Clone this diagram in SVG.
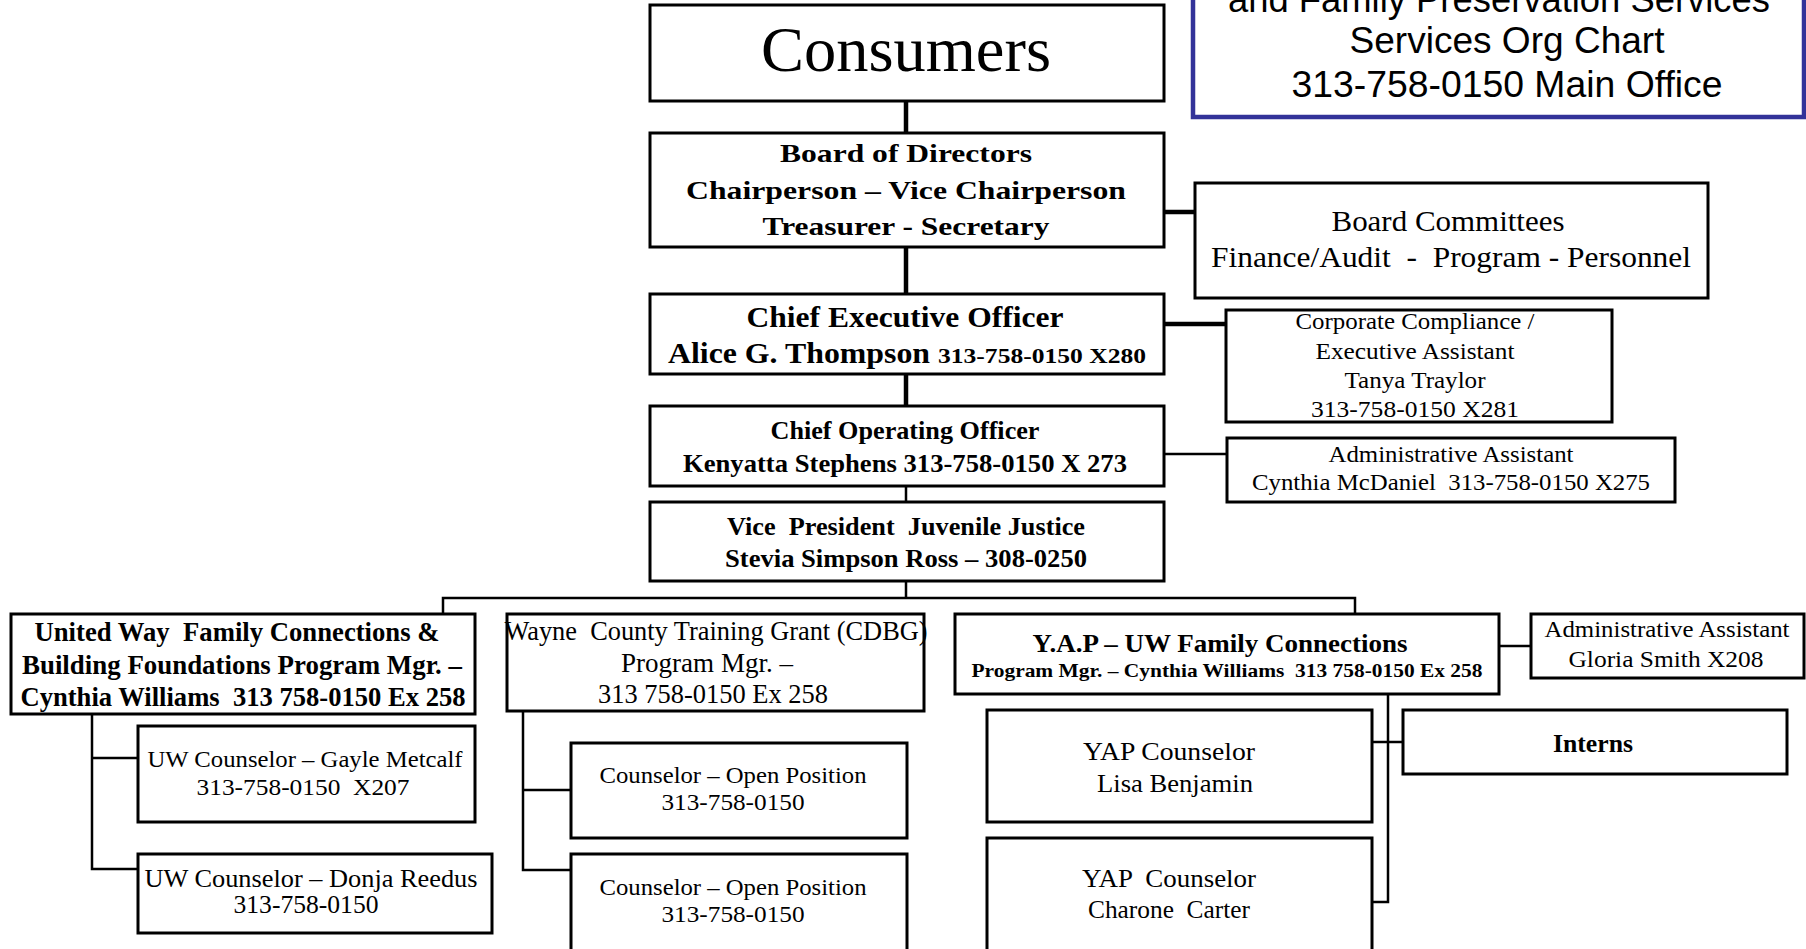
<svg xmlns="http://www.w3.org/2000/svg" width="1806" height="949" viewBox="0 0 1806 949">
<style>
.box{fill:#fff;stroke:#000;stroke-width:3}
.t{font-family:"Liberation Serif","Times New Roman",serif;fill:#000;text-anchor:middle;white-space:pre}
.s{text-anchor:start}
.b{font-weight:bold}
.thick{stroke:#000;stroke-width:4.5;fill:none}
.thin{stroke:#000;stroke-width:2.5;fill:none}
.title{font-family:"Liberation Sans",Arial,sans-serif;fill:#000;text-anchor:middle;font-size:37px}
</style>
<rect width="1806" height="949" fill="#fff"/>
<g id="connectors">
<path class="thick" d="M906 101V133M906 247V294M906 374V406M1164 212H1195M1164 324H1226"/>
<path class="thin" d="M906 486V502M906 581V598M443 614V598H1355V614M1164 454H1227"/>
<path class="thin" d="M92 714V869H138M92 758H138"/>
<path class="thin" d="M523 711V870H571M523 790H571"/>
<path class="thin" d="M1388 694V902H1372M1372 742H1403M1499 646H1531"/>
</g>
<g id="title">
<rect x="1193" y="-20" width="611" height="137" fill="#fff" stroke="#333399" stroke-width="4.5"/>
<text class="title" x="1499" y="12" textLength="542" lengthAdjust="spacingAndGlyphs">and Family Preservation Services</text>
<text class="title" x="1507" y="53" textLength="315" lengthAdjust="spacingAndGlyphs">Services Org Chart</text>
<text class="title" x="1507" y="97" textLength="431" lengthAdjust="spacingAndGlyphs">313-758-0150 Main Office</text>
</g>
<g id="consumers">
<rect class="box" x="650" y="5" width="514" height="96"/>
<text class="t" x="906" y="71" font-size="64" textLength="290" lengthAdjust="spacingAndGlyphs">Consumers</text>
</g>
<g id="board">
<rect class="box" x="650" y="133" width="514" height="114"/>
<text class="t b" x="906" y="162" font-size="25" textLength="252" lengthAdjust="spacingAndGlyphs">Board of Directors</text>
<text class="t b" x="906" y="199" font-size="25" textLength="440" lengthAdjust="spacingAndGlyphs">Chairperson – Vice Chairperson</text>
<text class="t b" x="906" y="235" font-size="25" textLength="287" lengthAdjust="spacingAndGlyphs">Treasurer - Secretary</text>
</g>
<g id="committees">
<rect class="box" x="1195" y="183" width="513" height="115"/>
<text class="t" x="1448" y="231" font-size="30" textLength="233" lengthAdjust="spacingAndGlyphs">Board Committees</text>
<text class="t" x="1451" y="267" font-size="30" textLength="480" lengthAdjust="spacingAndGlyphs">Finance/Audit  -  Program - Personnel</text>
</g>
<g id="ceo">
<rect class="box" x="650" y="294" width="514" height="80"/>
<text class="t b" x="905" y="327" font-size="30" textLength="317" lengthAdjust="spacingAndGlyphs">Chief Executive Officer</text>
<text class="t b s" x="668" y="363" font-size="30" textLength="262" lengthAdjust="spacingAndGlyphs">Alice G. Thompson</text>
<text class="t b s" x="938" y="363" font-size="22" textLength="208" lengthAdjust="spacingAndGlyphs">313-758-0150 X280</text>
</g>
<g id="compliance">
<rect class="box" x="1226" y="310" width="386" height="112"/>
<text class="t" x="1415" y="329" font-size="24" textLength="239" lengthAdjust="spacingAndGlyphs">Corporate Compliance /</text>
<text class="t" x="1415" y="359" font-size="24" textLength="199" lengthAdjust="spacingAndGlyphs">Executive Assistant</text>
<text class="t" x="1415" y="388" font-size="24" textLength="141" lengthAdjust="spacingAndGlyphs">Tanya Traylor</text>
<text class="t" x="1415" y="417" font-size="24" textLength="208" lengthAdjust="spacingAndGlyphs">313-758-0150 X281</text>
</g>
<g id="coo">
<rect class="box" x="650" y="406" width="514" height="80"/>
<text class="t b" x="905" y="439" font-size="26" textLength="269" lengthAdjust="spacingAndGlyphs">Chief Operating Officer</text>
<text class="t b" x="905" y="472" font-size="26" textLength="444" lengthAdjust="spacingAndGlyphs">Kenyatta Stephens 313-758-0150 X 273</text>
</g>
<g id="admin-mcdaniel">
<rect class="box" x="1227" y="438" width="448" height="64"/>
<text class="t" x="1451" y="462" font-size="24" textLength="245" lengthAdjust="spacingAndGlyphs">Administrative Assistant</text>
<text class="t" x="1451" y="490" font-size="24" textLength="398" lengthAdjust="spacingAndGlyphs">Cynthia McDaniel  313-758-0150 X275</text>
</g>
<g id="vp">
<rect class="box" x="650" y="502" width="514" height="79"/>
<text class="t b" x="906" y="535" font-size="25" textLength="358" lengthAdjust="spacingAndGlyphs">Vice  President  Juvenile Justice</text>
<text class="t b" x="906" y="567" font-size="25" textLength="362" lengthAdjust="spacingAndGlyphs">Stevia Simpson Ross – 308-0250</text>
</g>
<g id="uw">
<rect class="box" x="11" y="614" width="464" height="100"/>
<text class="t b" x="237" y="641" font-size="26.5" textLength="405" lengthAdjust="spacingAndGlyphs">United Way  Family Connections &amp;</text>
<text class="t b" x="242" y="674" font-size="26.5" textLength="440" lengthAdjust="spacingAndGlyphs">Building Foundations Program Mgr. –</text>
<text class="t b" x="243" y="706" font-size="26.5" textLength="445" lengthAdjust="spacingAndGlyphs">Cynthia Williams  313 758-0150 Ex 258</text>
</g>
<g id="wayne">
<rect class="box" x="507" y="614" width="417" height="97"/>
<text class="t" x="716" y="640" font-size="26.5" textLength="423" lengthAdjust="spacingAndGlyphs">Wayne  County Training Grant (CDBG)</text>
<text class="t" x="707" y="672" font-size="26.5" textLength="172" lengthAdjust="spacingAndGlyphs">Program Mgr. –</text>
<text class="t" x="713" y="703" font-size="26.5" textLength="230" lengthAdjust="spacingAndGlyphs">313 758-0150 Ex 258</text>
</g>
<g id="yap">
<rect class="box" x="955" y="614" width="544" height="80"/>
<text class="t b" x="1220" y="652" font-size="26" textLength="375" lengthAdjust="spacingAndGlyphs">Y.A.P – UW Family Connections</text>
<text class="t b" x="1227" y="677" font-size="19" textLength="511" lengthAdjust="spacingAndGlyphs">Program Mgr. – Cynthia Williams  313 758-0150 Ex 258</text>
</g>
<g id="admin-gloria">
<rect class="box" x="1531" y="614" width="273" height="64"/>
<text class="t" x="1667" y="637" font-size="24" textLength="245" lengthAdjust="spacingAndGlyphs">Administrative Assistant</text>
<text class="t" x="1666" y="667" font-size="24" textLength="195" lengthAdjust="spacingAndGlyphs">Gloria Smith X208</text>
</g>
<g id="gayle">
<rect class="box" x="138" y="726" width="337" height="96"/>
<text class="t" x="305" y="767" font-size="24" textLength="315" lengthAdjust="spacingAndGlyphs">UW Counselor – Gayle Metcalf</text>
<text class="t" x="303" y="795" font-size="24" textLength="213" lengthAdjust="spacingAndGlyphs">313-758-0150  X207</text>
</g>
<g id="donja">
<rect class="box" x="138" y="854" width="354" height="79"/>
<text class="t" x="311" y="887" font-size="26" textLength="333" lengthAdjust="spacingAndGlyphs">UW Counselor – Donja Reedus</text>
<text class="t" x="306" y="913" font-size="26" textLength="145" lengthAdjust="spacingAndGlyphs">313-758-0150</text>
</g>
<g id="open1">
<rect class="box" x="571" y="743" width="336" height="95"/>
<text class="t" x="733" y="783" font-size="24" textLength="267" lengthAdjust="spacingAndGlyphs">Counselor – Open Position</text>
<text class="t" x="733" y="810" font-size="24" textLength="143" lengthAdjust="spacingAndGlyphs">313-758-0150</text>
</g>
<g id="open2">
<rect class="box" x="571" y="854" width="336" height="110"/>
<text class="t" x="733" y="895" font-size="24" textLength="267" lengthAdjust="spacingAndGlyphs">Counselor – Open Position</text>
<text class="t" x="733" y="922" font-size="24" textLength="143" lengthAdjust="spacingAndGlyphs">313-758-0150</text>
</g>
<g id="lisa">
<rect class="box" x="987" y="710" width="385" height="112"/>
<text class="t" x="1169" y="760" font-size="26" textLength="172" lengthAdjust="spacingAndGlyphs">YAP Counselor</text>
<text class="t" x="1175" y="792" font-size="26" textLength="156" lengthAdjust="spacingAndGlyphs">Lisa Benjamin</text>
</g>
<g id="charone">
<rect class="box" x="987" y="838" width="385" height="125"/>
<text class="t" x="1169" y="887" font-size="26" textLength="174" lengthAdjust="spacingAndGlyphs">YAP  Counselor</text>
<text class="t" x="1169" y="918" font-size="26" textLength="162" lengthAdjust="spacingAndGlyphs">Charone  Carter</text>
</g>
<g id="interns">
<rect class="box" x="1403" y="710" width="384" height="64"/>
<text class="t b" x="1593" y="752" font-size="26" textLength="80" lengthAdjust="spacingAndGlyphs">Interns</text>
</g>
</svg>
